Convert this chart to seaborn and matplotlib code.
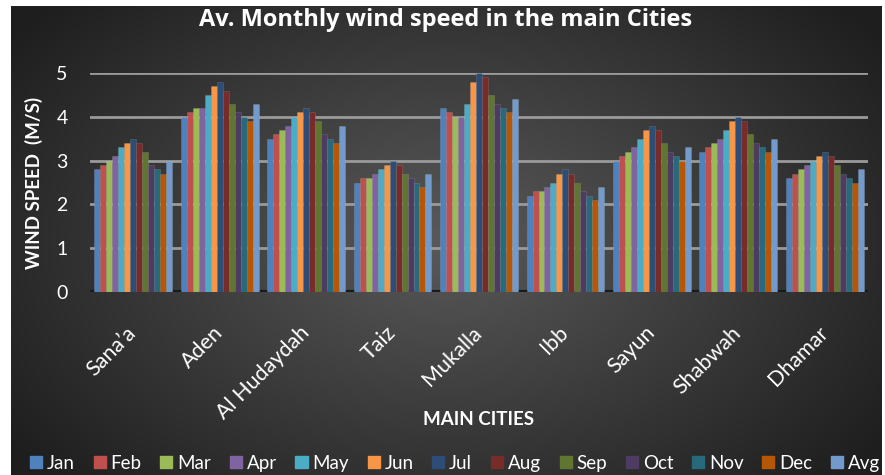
import numpy as np
import pandas as pd
import matplotlib
matplotlib.use("Agg")
import matplotlib.pyplot as plt
import seaborn as sns

# data
cities = ["Sana’a", "Aden", "Al Hudaydah", "Taiz", "Mukalla", "Ibb", "Sayun", "Shabwah", "Dhamar"]
months = ["Jan", "Feb", "Mar", "Apr", "May", "Jun", "Jul", "Aug", "Sep", "Oct", "Nov", "Dec", "Avg"]

sanaa     = [2.8, 2.9, 3.0, 3.1, 3.3, 3.4, 3.5, 3.4, 3.2, 2.9, 2.8, 2.7, 3.0]
aden      = [4.0, 4.1, 4.2, 4.2, 4.5, 4.7, 4.8, 4.6, 4.3, 4.1, 4.0, 3.9, 4.3]
hudaydah  = [3.5, 3.6, 3.7, 3.8, 4.0, 4.1, 4.2, 4.1, 3.9, 3.6, 3.5, 3.4, 3.8]
taiz      = [2.5, 2.6, 2.6, 2.7, 2.8, 2.9, 3.0, 2.9, 2.7, 2.6, 2.5, 2.4, 2.7]
mukalla   = [4.2, 4.1, 4.0, 4.0, 4.3, 4.8, 5.0, 4.9, 4.5, 4.3, 4.2, 4.1, 4.4]
ibb       = [2.2, 2.3, 2.3, 2.4, 2.5, 2.7, 2.8, 2.7, 2.5, 2.3, 2.2, 2.1, 2.4]
sayun     = [3.0, 3.1, 3.2, 3.3, 3.5, 3.7, 3.8, 3.7, 3.4, 3.2, 3.1, 3.0, 3.3]
shabwah   = [3.2, 3.3, 3.4, 3.5, 3.7, 3.9, 4.0, 3.9, 3.6, 3.4, 3.3, 3.2, 3.5]
dhamar    = [2.6, 2.7, 2.8, 2.9, 3.0, 3.1, 3.2, 3.1, 2.9, 2.7, 2.6, 2.5, 2.8]

colors = ["#4F81BD", "#C0504D", "#9BBB59", "#8064A2", "#4BACC6", "#F79646",
          "#2C4D75", "#772C2A", "#5F7530", "#4D3B62", "#276A7C", "#B65708", "#729ACA"]

rows = []
for city, vals in zip(cities, [sanaa, aden, hudaydah, taiz, mukalla, ibb, sayun, shabwah, dhamar]):
    for m, v in zip(months, vals):
        rows.append({"city": city, "month": m, "speed": v})
df = pd.DataFrame(rows)

sns.set_theme(style="dark")
plt.rcParams['font.family'] = ['Lato', 'DejaVu Sans']

fig = plt.figure(figsize=(8.85, 4.75), dpi=100)
fig.patch.set_facecolor("white")

# dark radial gradient background
bg = fig.add_axes([11/885, 0, 1 - 14/885, 1 - 6/475], zorder=-10)
yy, xx = np.mgrid[0:1:300j, 0:1:500j]
r = np.sqrt(((xx - 0.5) / 0.75) ** 2 + ((yy - 0.5) / 0.9) ** 2)
shade = np.clip(0.35 - 0.28 * r, 0.12, 0.35)
bg.imshow(np.dstack([shade] * 3), aspect="auto", extent=[0, 1, 0, 1])
bg.axis("off")

ax = fig.add_axes([90/885, 1 - 292/475, 778/885, (292 - 73)/475])
ax.set_facecolor("none")

sns.barplot(data=df, x="city", y="speed", hue="month", palette=colors,
            saturation=1, width=0.9, ax=ax, zorder=3,
            edgecolor=(1, 1, 1, 0.15), linewidth=0.5)

ax.set_ylim(0, 5)
ax.set_yticks(range(0, 6))
ax.yaxis.grid(True, color="#9a9a9a", linewidth=2, zorder=0)
ax.xaxis.grid(False)
ax.set_axisbelow(True)
for s in ax.spines.values():
    s.set_visible(False)
ax.axhline(0, color="#1a1a1a", linewidth=3, zorder=2)

ax.tick_params(axis="y", colors="white", labelsize=14, pad=16, length=0)
ax.tick_params(axis="x", colors="white", labelsize=15.5, length=0, pad=27)
plt.setp(ax.get_xticklabels(), rotation=45, ha="right", va="center", rotation_mode="anchor")

ax.set_xlabel("MAIN CITIES", color="white", fontsize=13.5, fontweight="bold", labelpad=-9)
ax.set_ylabel("WIND SPEED  (M/S)", color="white", fontsize=13.5, fontweight="bold", labelpad=10)

fig.text(0.503, 0.957, "Av. Monthly wind speed in the main Cities", color="white",
         fontsize=17, fontweight="bold", ha="center", va="center", family=["Open Sans", "DejaVu Sans"])

ax.get_legend().remove()
handles = [plt.Rectangle((0, 0), 1, 1, color=c) for c in colors]
leg = fig.legend(handles, months, loc="center", bbox_to_anchor=(0.514, 0.025), ncol=13,
                 frameon=False, fontsize=13.5, handlelength=0.65, handleheight=0.65,
                 handletextpad=0.25, columnspacing=1.0, labelcolor="white")

fig.savefig("out.png", dpi=100, facecolor=fig.get_facecolor())
